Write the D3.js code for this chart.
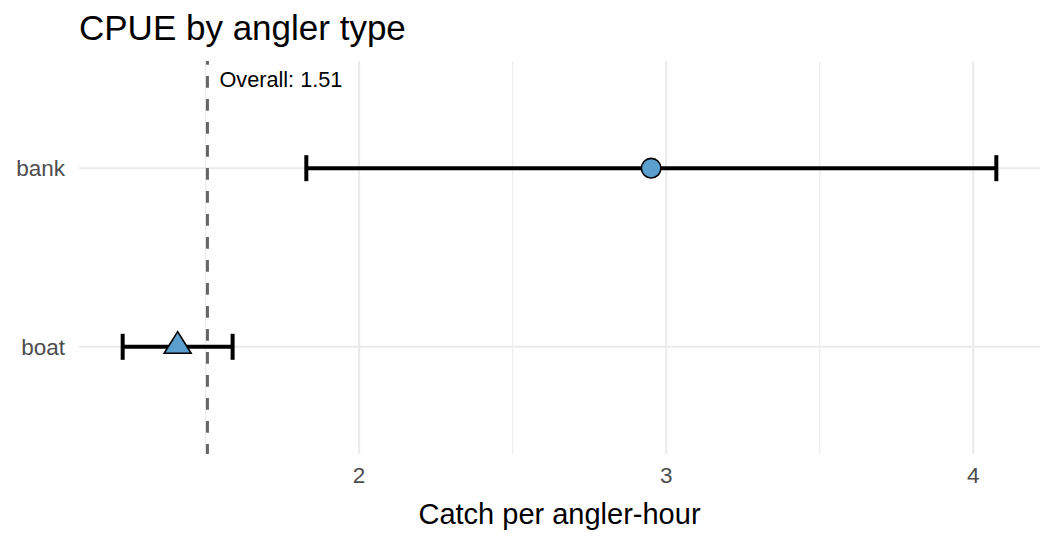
<!DOCTYPE html>
<html>
<head>
<meta charset="utf-8">
<script src="https://cdn.jsdelivr.net/npm/d3@7"></script>
<style>
  body { margin: 0; background: #fff; }
  svg { font-family: "Liberation Sans", Arial, sans-serif; }
</style>
</head>
<body>
<div id="chart"></div>
<script>
// angler types and their CPUE estimates
const anglerTypes = ['bank', 'boat'];
const cpueMean = [2.951, 1.409];
const cpueLow = [1.828, 1.230];
const cpueHigh = [4.075, 1.588];
const shapes = ['circle', 'triangle'];
const overallCpue = 1.506;
const xTicks = [2, 3, 4];
const xMinor = [1.5, 2.5, 3.5];

const width = 1056, height = 537;
const margin = { top: 61, right: 16, bottom: 83, left: 79 };

const svg = d3.select('#chart').append('svg')
    .attr('width', width)
    .attr('height', height);

// ggplot-style 5% expansion
const lo = d3.min(cpueLow), hi = d3.max(cpueHigh);
const pad = (hi - lo) * 0.05;
const x = d3.scaleLinear()
    .domain([lo - pad, hi + pad])
    .range([margin.left, width - margin.right]);

const y = d3.scalePoint()
    .domain(anglerTypes)
    .range([margin.top, height - margin.bottom])
    .padding(0.6);

const data = anglerTypes.map((t, i) => ({
    type: t, mean: cpueMean[i], low: cpueLow[i], high: cpueHigh[i], shape: shapes[i]
}));

const grid = svg.append('g');
// minor grid
grid.selectAll('line.minor')
    .data(xMinor)
    .join('line')
    .attr('x1', d => x(d)).attr('x2', d => x(d))
    .attr('y1', margin.top).attr('y2', height - margin.bottom)
    .attr('stroke', '#ebebeb').attr('stroke-width', 1.1);
// major grid
grid.selectAll('line.major')
    .data(xTicks)
    .join('line')
    .attr('x1', d => x(d)).attr('x2', d => x(d))
    .attr('y1', margin.top).attr('y2', height - margin.bottom)
    .attr('stroke', '#ebebeb').attr('stroke-width', 2.1);
grid.selectAll('line.ymajor')
    .data(anglerTypes)
    .join('line')
    .attr('x1', margin.left).attr('x2', width - margin.right)
    .attr('y1', d => y(d)).attr('y2', d => y(d))
    .attr('stroke', '#ebebeb').attr('stroke-width', 2.1);

// overall reference line
svg.append('line')
    .attr('x1', x(overallCpue)).attr('x2', x(overallCpue))
    .attr('y1', margin.top).attr('y2', height - margin.bottom)
    .attr('stroke', '#666666')
    .attr('stroke-width', 3)
    .attr('stroke-dasharray', '11.7,11.3')
    .attr('stroke-dashoffset', 8);

svg.append('text')
    .attr('x', x(overallCpue) + 12)
    .attr('y', 87)
    .attr('font-size', 21.7)
    .attr('fill', '#000')
    .text('Overall: ' + overallCpue.toFixed(2));

// error bars
const bars = svg.append('g').selectAll('g')
    .data(data)
    .join('g');

bars.append('line')
    .attr('x1', d => x(d.low)).attr('x2', d => x(d.high))
    .attr('y1', d => y(d.type)).attr('y2', d => y(d.type))
    .attr('stroke', '#000').attr('stroke-width', 4);
bars.append('line')
    .attr('x1', d => x(d.low)).attr('x2', d => x(d.low))
    .attr('y1', d => y(d.type) - 13).attr('y2', d => y(d.type) + 13)
    .attr('stroke', '#000').attr('stroke-width', 4);
bars.append('line')
    .attr('x1', d => x(d.high)).attr('x2', d => x(d.high))
    .attr('y1', d => y(d.type) - 13).attr('y2', d => y(d.type) + 13)
    .attr('stroke', '#000').attr('stroke-width', 4);

// points
const bigTriangle = {
    draw(ctx, size) {
        const w = Math.sqrt(size), h = w * 0.8;
        ctx.moveTo(0, -h * 0.7);
        ctx.lineTo(w / 2, h * 0.3);
        ctx.lineTo(-w / 2, h * 0.3);
        ctx.closePath();
    }
};
const symbolType = { circle: d3.symbolCircle, triangle: bigTriangle };
const symbolSize = { circle: 300, triangle: 729 };
bars.append('path')
    .attr('d', d => d3.symbol().type(symbolType[d.shape]).size(symbolSize[d.shape])())
    .attr('transform', d => `translate(${x(d.mean)},${y(d.type)})`)
    .attr('fill', '#5b9fcf')
    .attr('stroke', '#000')
    .attr('stroke-width', 1.6);

// axes labels
svg.append('g').selectAll('text')
    .data(xTicks)
    .join('text')
    .attr('x', d => x(d))
    .attr('y', 483)
    .attr('text-anchor', 'middle')
    .attr('font-size', 22.5)
    .attr('fill', '#4d4d4d')
    .text(d => d);

svg.append('g').selectAll('text')
    .data(anglerTypes)
    .join('text')
    .attr('x', 65)
    .attr('y', d => y(d) + 8)
    .attr('text-anchor', 'end')
    .attr('font-size', 22.5)
    .attr('fill', '#4d4d4d')
    .text(d => d);

svg.append('text')
    .attr('x', (margin.left + width - margin.right) / 2)
    .attr('y', 524)
    .attr('text-anchor', 'middle')
    .attr('font-size', 29)
    .attr('fill', '#000')
    .text('Catch per angler-hour');

svg.append('text')
    .attr('x', 79)
    .attr('y', 40)
    .attr('font-size', 35)
    .attr('fill', '#000')
    .text('CPUE by angler type');
</script>
</body>
</html>
